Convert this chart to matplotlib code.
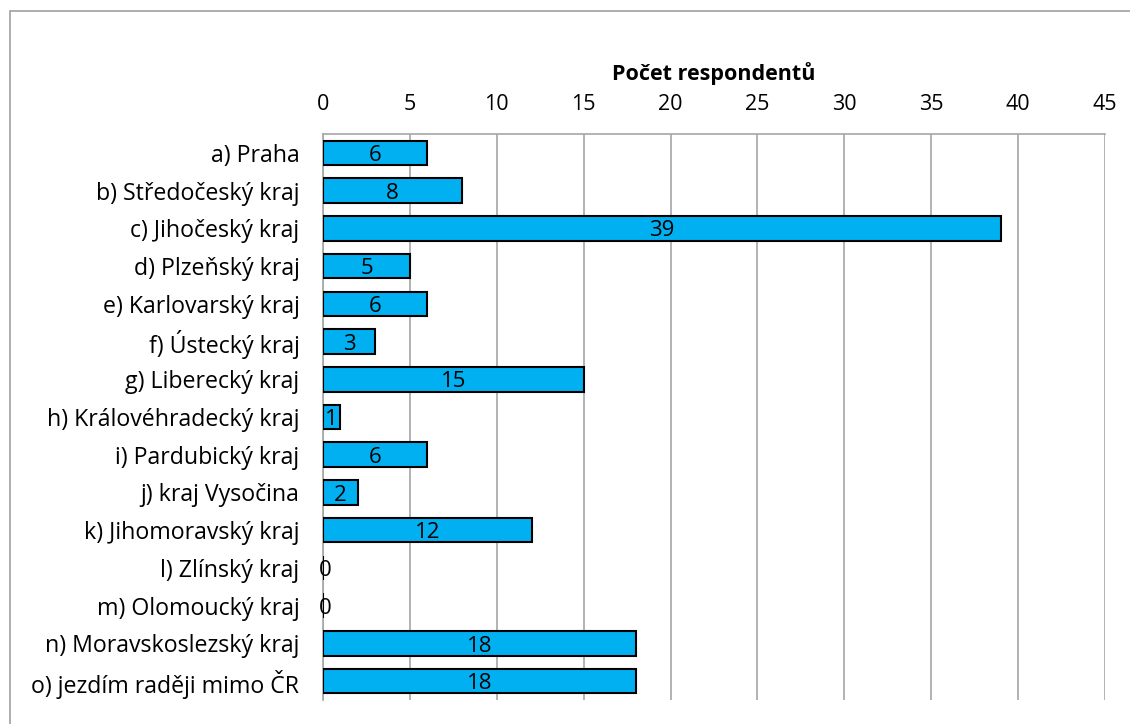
import matplotlib.pyplot as plt
from matplotlib.patches import Rectangle

categories = ['a) Praha', 'b) Středočeský kraj', 'c) Jihočeský kraj', 'd) Plzeňský kraj',
              'e) Karlovarský kraj', 'f) Ústecký kraj', 'g) Liberecký kraj',
              'h) Královéhradecký kraj', 'i) Pardubický kraj', 'j) kraj Vysočina',
              'k) Jihomoravský kraj', 'l) Zlínský kraj', 'm) Olomoucký kraj',
              'n) Moravskoslezský kraj', 'o) jezdím raději mimo ČR']
values = [6, 8, 39, 5, 6, 3, 15, 1, 6, 2, 12, 0, 0, 18, 18]
xticks = [0, 5, 10, 15, 20, 25, 30, 35, 40, 45]

plt.rcParams['font.family'] = ['Open Sans', 'DejaVu Sans']

fig = plt.figure(figsize=(11.3, 7.24), dpi=100)
ax = fig.add_axes([323 / 1130, 1 - 700 / 724, (1105 - 323) / 1130, (700 - 134) / 724])

ypos = list(range(len(categories)))
ax.barh(ypos, values, height=0.65, color='#00B0F0', edgecolor='black', linewidth=1.5, zorder=3)
for y, v in zip(ypos, values):
    ax.text(v / 2 + (0.15 if v == 0 else 0), y + 0.07, str(v), ha='center', va='center',
            fontsize=16, zorder=4)

ax.set_xlim(0, 45)
ax.set_ylim(len(categories) - 0.5, -0.5)
ax.set_yticks(ypos)
ax.set_yticklabels(categories, fontsize=16.7)
ax.set_xticks(xticks)
ax.xaxis.tick_top()
ax.xaxis.set_label_position('top')
ax.tick_params(axis='x', labelsize=15.5, length=0, pad=14)
ax.tick_params(axis='y', length=0, pad=17)
ax.set_xlabel('Počet respondentů', fontsize=15.5, fontweight='bold', labelpad=10)
ax.grid(axis='x', color='#A6A6A6', linewidth=1.2, zorder=0)
for s in ['right', 'bottom']:
    ax.spines[s].set_visible(False)
ax.spines['top'].set_color('#A6A6A6')
ax.spines['left'].set_color('#A6A6A6')
ax.spines['top'].set_linewidth(1.2)
ax.spines['left'].set_linewidth(1.2)

fig.patches.append(Rectangle((10 / 1130, -0.1), 1.2, 1 - 11 / 724 + 0.1, transform=fig.transFigure,
                             fill=False, edgecolor='#A0A0A0', linewidth=1.2))

fig.savefig('out.png', dpi=100)
